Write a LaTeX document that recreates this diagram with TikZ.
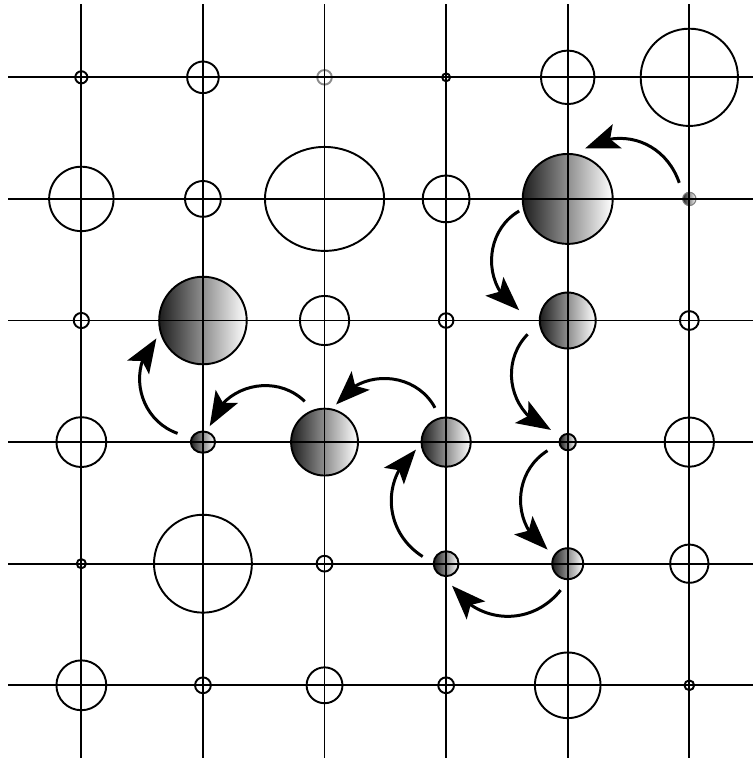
\documentclass[tikz,border=0pt]{standalone}
\usepackage{tikz}
\usetikzlibrary{arrows.meta,bending,shapes.geometric}

\begin{document}
\begin{tikzpicture}[
    x=2cm, y=2cm,
    hole/.style={ellipse, draw, line width=0.9pt, inner sep=0pt, minimum size=#1},
    ball/.style={hole=#1, left color=black!88, right color=white},
    gridline/.style={line width=0.8pt},
    arr/.style={-{Stealth[length=16pt, width=12pt, inset=3.5pt, flex]}, line width=1.4pt, looseness=1.1},
]
    \useasboundingbox (-0.669,0.636) rectangle (5.516,-5.598);

    \foreach \i/\j/\d in {0/0/0.20, 1/0/0.52, 3/0/0.13, 4/0/0.88, 5/0/1.60,
        0/1/1.06, 1/1/0.59, 3/1/0.77,
        0/2/0.25, 2/2/0.81, 3/2/0.24, 5/2/0.31,
        0/3/0.82, 5/3/0.81,
        0/4/0.15, 1/4/1.61, 2/4/0.26, 5/4/0.63,
        0/5/0.82, 1/5/0.26, 2/5/0.59, 3/5/0.26, 4/5/1.08, 5/5/0.16}
        \node[hole=\d cm] (c\i\j) at (\i,-\j) {};
    \node[hole=0.24cm, draw=black!45] (c20) at (2,0) {};
    \node[hole=0, minimum width=1.96cm, minimum height=1.71cm] (c21) at (2,-1) {};

    \foreach \i/\j/\d in {4/1/1.48, 1/2/1.44, 4/2/0.92, 2/3/1.10, 3/3/0.81,
        4/3/0.27, 3/4/0.41, 4/4/0.51}
        \node[ball=\d cm] (c\i\j) at (\i,-\j) {};
    \node[ball=0.22cm, draw=black!50, line width=0.5pt] (c51) at (5,-1) {};
    \node[ball=0, minimum width=0.40cm, minimum height=0.35cm] (c13) at (1,-3) {};

    \foreach \k in {0,...,5} {
        \draw[gridline] (\k,0.6) -- (\k,-5.6);
        \draw[gridline] (-0.6,-\k) -- (5.6,-\k);
    }

    \draw[arr] ([shift={(122:5.5pt)}]c51.122) to[bend right=51] ([shift={(71:3.5pt)}]c41.71);
    \draw[arr] ([shift={(194:1.9pt)}]c41.194) to[bend right=60] ([shift={(168:9.7pt)}]c42.168);
    \draw[arr] ([shift={(199:6.3pt)}]c42.199) to[bend right=58] ([shift={(144:5.4pt)}]c43.144);
    \draw[arr] ([shift={(203:6pt)}]c43.203) to[bend right=58] ([shift={(145:3.8pt)}]c44.145);
    \draw[arr] ([shift={(255:5.1pt)}]c44.255) to[bend left=54] ([shift={(285:4.4pt)}]c34.285);
    \draw[arr] ([shift={(163:5.2pt)}]c34.163) to[bend left=54] ([shift={(194:2.6pt)}]c33.194);
    \draw[arr] ([shift={(108:4.9pt)}]c33.108) to[bend right=60] ([shift={(73:2.3pt)}]c23.73);
    \draw[arr] ([shift={(116:5.1pt)}]c23.116) to[bend right=59] ([shift={(67:2.6pt)}]c13.67);
    \draw[arr] ([shift={(161:6.5pt)}]c13.161) to[bend left=58] ([shift={(201:2.4pt)}]c12.201);
\end{tikzpicture}
\end{document}
